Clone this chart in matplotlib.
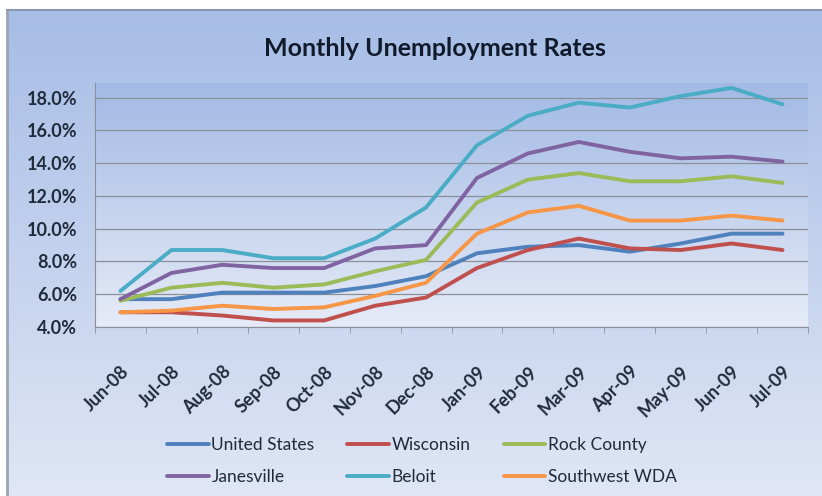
import numpy as np
import matplotlib
matplotlib.use('Agg')
import matplotlib.pyplot as plt
from matplotlib.ticker import FuncFormatter, FixedLocator

months = ['Jun-08', 'Jul-08', 'Aug-08', 'Sep-08', 'Oct-08', 'Nov-08', 'Dec-08',
          'Jan-09', 'Feb-09', 'Mar-09', 'Apr-09', 'May-09', 'Jun-09', 'Jul-09']

united_states = [5.7, 5.7, 6.1, 6.1, 6.1, 6.5, 7.1, 8.5, 8.9, 9.0, 8.6, 9.1, 9.7, 9.7]
wisconsin = [4.9, 4.9, 4.7, 4.4, 4.4, 5.3, 5.8, 7.6, 8.7, 9.4, 8.8, 8.7, 9.1, 8.7]
rock_county = [5.6, 6.4, 6.7, 6.4, 6.6, 7.4, 8.1, 11.6, 13.0, 13.4, 12.9, 12.9, 13.2, 12.8]
janesville = [5.7, 7.3, 7.8, 7.6, 7.6, 8.8, 9.0, 13.1, 14.6, 15.3, 14.7, 14.3, 14.4, 14.1]
beloit = [6.2, 8.7, 8.7, 8.2, 8.2, 9.4, 11.3, 15.1, 16.9, 17.7, 17.4, 18.1, 18.6, 17.6]
southwest_wda = [4.9, 5.0, 5.3, 5.1, 5.2, 5.9, 6.7, 9.7, 11.0, 11.4, 10.5, 10.5, 10.8, 10.5]

series = [
    ('United States', united_states, '#4F81BD'),
    ('Wisconsin', wisconsin, '#C0504D'),
    ('Rock County', rock_county, '#9BBB59'),
    ('Janesville', janesville, '#8064A2'),
    ('Beloit', beloit, '#4BACC6'),
    ('Southwest WDA', southwest_wda, '#F79646'),
]

plt.rcParams['font.family'] = ['Lato', 'DejaVu Sans']

fig = plt.figure(figsize=(8.22, 4.96), dpi=100)
fig.patch.set_facecolor('white')

# chart area background (gradient, light blue to pale)
bg = fig.add_axes([7 / 822, 0, 1 - 7 / 822, 1 - 10 / 496], zorder=-10)
grad = np.linspace(0, 1, 256)[:, None]
top_c = np.array([166, 189, 230]) / 255
bot_c = np.array([224, 230, 245]) / 255
img = top_c[None, None, :] * (1 - grad[:, :, None]) + bot_c[None, None, :] * grad[:, :, None]
bg.imshow(img, aspect='auto', extent=[0, 1, 0, 1])
bg.set_xlim(0, 1)
bg.set_ylim(0, 1)
bg.axis('off')
bg.plot([0, 0], [0, 1], color='#9aa4b4', lw=2, transform=bg.transAxes, clip_on=False)
bg.plot([0, 1], [1, 1], color='#8a96aa', lw=1.5, transform=bg.transAxes, clip_on=False)

ax = fig.add_axes([95 / 822, 1 - 327 / 496, (808 - 95) / 822, (327 - 83) / 496])
ax.patch.set_alpha(0)
ptop = np.array([162, 186, 229]) / 255
pbot = np.array([230, 235, 247]) / 255
pimg = ptop[None, None, :] * (1 - grad[:, :, None]) + pbot[None, None, :] * grad[:, :, None]
ax.imshow(pimg, aspect='auto', extent=[-0.5, 13.5, 4, 18.9], zorder=0)

x = np.arange(len(months))
for name, vals, col in series:
    ax.plot(x, vals, color=col, lw=2.8, label=name, zorder=3,
            solid_joinstyle='round', solid_capstyle='round')

ax.set_xlim(-0.5, 13.5)
ax.set_ylim(4, 18.9)
ax.set_yticks(np.arange(4, 18.1, 2))
ax.yaxis.set_major_formatter(FuncFormatter(lambda v, p: f'{v:.1f}%'))
ax.grid(axis='y', color='#8a8f98', lw=0.9, zorder=1)
ax.set_axisbelow(True)

ax.set_xticks(x)
ax.set_xticklabels(months, rotation=45, ha='right', va='top', rotation_mode='anchor',
                   fontsize=13, fontweight='bold', color='#1f2a3a')
ax.tick_params(axis='x', length=0, pad=26)
ax.xaxis.set_minor_locator(FixedLocator(np.arange(-0.5, 13.6, 1)))
ax.tick_params(axis='x', which='minor', length=4, color='#8a8f98', direction='out')
ax.tick_params(axis='y', length=0, pad=13, labelsize=13, labelcolor='#1f2a3a')
for lab in ax.get_yticklabels():
    lab.set_fontweight('bold')

for s in ['top', 'right']:
    ax.spines[s].set_visible(False)
ax.spines['left'].set_color('#8a8f98')
ax.spines['bottom'].set_color('#8a8f98')

fig.text(435 / 822, 1 - 48 / 496, 'Monthly Unemployment Rates', ha='center', va='center',
         fontsize=18, fontweight='bold', color='#111a2a')

handles, labels = ax.get_legend_handles_labels()
# legend fills by column, so interleave to get rows like the original
order = [0, 3, 1, 4, 2, 5]
fig.legend([handles[i] for i in order], [labels[i] for i in order], ncol=3, loc='center',
           bbox_to_anchor=(422 / 822, 1 - 461 / 496),
           frameon=False, fontsize=12.5, handlelength=2.4, columnspacing=1.9,
           labelspacing=0.95, handletextpad=0.15, labelcolor='#1f2a3a')

fig.savefig('out.png', dpi=100)
